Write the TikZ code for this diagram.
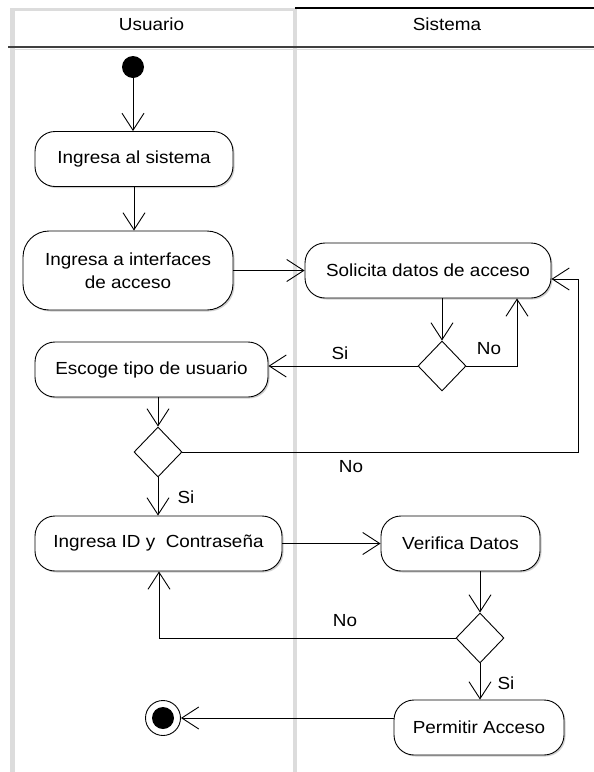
\documentclass[tikz,border=0pt]{standalone}
\usepackage{fontspec}
\setmainfont{Liberation Sans}[FakeStretch=1.08]
\usetikzlibrary{arrows.meta,shapes.geometric,shadows,calc}

\definecolor{lanegray}{HTML}{DCDCDC}
\definecolor{headline}{HTML}{404040}

\tikzset{
  flow/.style={draw=black, line width=0.9pt,
    -{Straight Barb[length=17pt,width=22pt,line width=0.9pt]}},
  plain/.style={draw=black, line width=0.9pt},
  act/.style={draw=black, line width=0.9pt, fill=white, rounded corners=20pt,
    minimum height=55pt, inner sep=0pt, align=center,
    drop shadow={shadow xshift=1.5pt, shadow yshift=-1.5pt, fill=black!30, opacity=0.6}},
  decision/.style={draw=black, line width=0.9pt, fill=white, diamond,
    minimum width=48pt, minimum height=50pt, inner sep=0pt},
  guard/.style={inner sep=0pt, anchor=center},
}

\begin{document}
\begin{tikzpicture}[x=1pt, y=-1pt, font=\fontsize{17.5}{21}\selectfont]
\useasboundingbox (0,0) rectangle (594,772);
\fill[white] (0,0) rectangle (594,772);

% swimlane frame
\fill[lanegray] (10,8) rectangle (15,772);
\fill[lanegray] (293,8) rectangle (297,772);
\fill[lanegray] (10,8) rectangle (295,11);
\draw[black, line width=2pt] (295,8) -- (594,8);
\draw[headline, line width=2pt] (8,47) -- (594,47);
\draw[lanegray, line width=1pt] (15,49.5) -- (594,49.5);
\node (hu) at (151.5,24) {Usuario};
\node (hs) at (447,24) {Sistema};

% activities
\node[circle, fill=black, minimum size=22pt, inner sep=0pt] (start) at (133,67) {};
\node[act, minimum width=198pt] (a1) at (134,159) {Ingresa al sistema};
\node[act, minimum width=210pt, minimum height=79pt, rounded corners=26pt] (a2) at (128,270.5) {Ingresa a interfaces\\[2pt]de acceso};
\node[act, minimum width=246pt] (s1) at (428,270.5) {Solicita datos de acceso};
\node[decision] (d1) at (442,366) {};
\node[act, minimum width=233pt] (e1) at (151.5,369.5) {Escoge tipo de usuario};
\node[decision] (d2) at (158,452) {};
\node[act, minimum width=247pt] (i1) at (158.5,543.5) {Ingresa ID y\ \ Contraseña};
\node[act, minimum width=159pt] (v1) at (460.5,543.5) {Verifica Datos};
\node[decision] (d3) at (480,638) {};
\node[act, minimum width=170pt] (p1) at (479,727.5) {Permitir Acceso};
\node[circle, draw=black, line width=0.9pt, fill=white, minimum size=35pt, inner sep=0pt] (endc) at (163,718) {};
\node[circle, fill=black, minimum size=22pt, inner sep=0pt] (endin) at (endc) {};

% helper corners of the routed connectors
\coordinate (c1) at (517,366);
\coordinate (c2a) at (578,452);
\coordinate (c2b) at (578,279);
\coordinate (c3) at (159,638);

% connectors
\draw[flow] (start.south) -- (start.south |- a1.north);
\draw[flow] (a1.south) -- (a1.south |- a2.north);
\draw[flow] (a2.east) -- (s1.west);
\draw[flow] (d1.north |- s1.south) -- (d1.north);
\draw[flow] (d1.east) -- (c1) -- (c1 |- s1.south);
\draw[flow] (d1.west) -- (d1.west -| e1.east);
\draw[flow] (d2.north |- e1.south) -- (d2.north);
\draw[flow] (d2.east) -- (c2a) -- (c2b) -- (c2b -| s1.east);
\draw[flow] (d2.south) -- (d2.south |- i1.north);
\draw[flow] (i1.east) -- (v1.west);
\draw[flow] (d3.north |- v1.south) -- (d3.north);
\draw[flow] (d3.west) -- (c3) -- (c3 |- i1.south);
\draw[flow] (d3.south) -- (d3.south |- p1.north);
\draw[flow] (p1.west |- endc.east) -- (endc.east);

% guard labels
\node[guard] (g1) at (489,349) {No};
\node[guard] (g2) at (340,353) {Si};
\node[guard] (g3) at (351,467) {No};
\node[guard] (g4) at (186,497) {Si};
\node[guard] (g5) at (345,621) {No};
\node[guard] (g6) at (506,683) {Si};
\end{tikzpicture}
\end{document}
